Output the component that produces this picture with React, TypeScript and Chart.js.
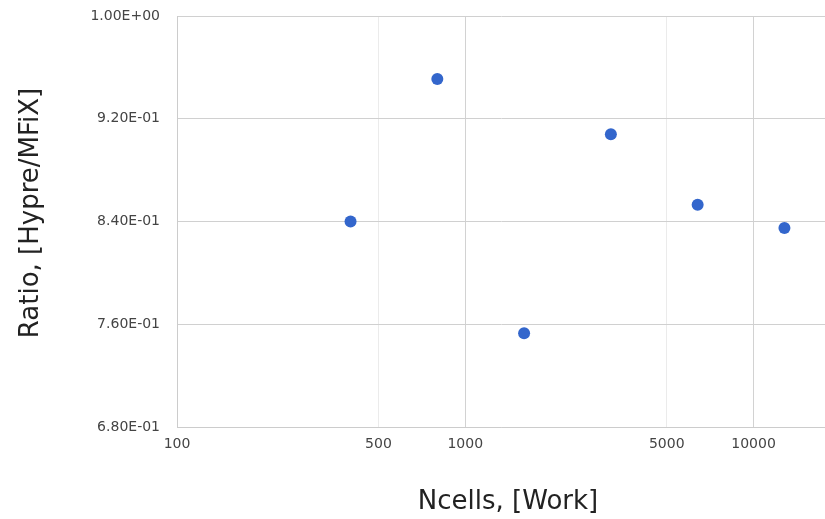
import React, { useEffect, useRef } from "react";
import { Chart, registerables } from "chart.js";

Chart.register(...registerables);

// Problem size (number of cells) and solver time ratio
const ncells = [400, 800, 1600, 3200, 6400, 12800];
const ratio = [0.84, 0.951, 0.753, 0.908, 0.853, 0.835];

// Axis ticks
const xTickValues = [100, 500, 1000, 5000, 10000];
const xMajorTicks = [100, 1000, 10000];
const yTickValues = [0.68, 0.76, 0.84, 0.92, 1.0];

const xTitle = "Ncells, [Work]";
const yTitle = "Ratio, [Hypre/MFiX]";

const FONT = "'DejaVu Sans', Verdana, sans-serif";

// 0.84 -> "8.40E-01"
function sci(v: number): string {
  const [m, e] = v.toExponential(2).split("e");
  const n = parseInt(e, 10);
  const sign = n < 0 ? "-" : "+";
  return `${m}E${sign}${String(Math.abs(n)).padStart(2, "0")}`;
}

// Draws the two axis titles in the outer margins
const axisTitles = {
  id: "axisTitles",
  afterDraw(chart: any) {
    const { ctx } = chart;
    ctx.save();
    ctx.fillStyle = "#222222";
    ctx.font = `26px ${FONT}`;
    ctx.textAlign = "center";
    ctx.textBaseline = "middle";
    ctx.fillText(xTitle, 508, 502);
    ctx.translate(31, 213);
    ctx.rotate(-Math.PI / 2);
    ctx.fillText(yTitle, 0, 0);
    ctx.restore();
  },
};

export default function App() {
  const canvasRef = useRef<HTMLCanvasElement | null>(null);

  useEffect(() => {
    const canvas = canvasRef.current;
    if (!canvas) return;
    const chart = new Chart(canvas, {
      type: "scatter",
      data: {
        datasets: [
          {
            label: "Ratio",
            data: ncells.map((x, i) => ({ x, y: ratio[i] })),
            backgroundColor: "#3366cc",
            borderColor: "#3366cc",
            borderWidth: 0,
            pointRadius: 6,
            pointHoverRadius: 6,
          },
        ],
      },
      options: {
        responsive: false,
        animation: false,
        layout: { padding: { top: 16, right: 0, bottom: 0, left: 0 } },
        plugins: {
          legend: { display: false },
          tooltip: { enabled: false },
        },
        scales: {
          x: {
            type: "logarithmic",
            min: 100,
            max: 17700,
            afterBuildTicks: (scale: any) => {
              scale.ticks = xTickValues.map((value) => ({ value }));
            },
            afterFit: (scale: any) => {
              scale.height = 92;
              scale.paddingLeft = 0;
              scale.paddingRight = 0;
            },
            ticks: {
              autoSkip: false,
              maxRotation: 0,
              padding: 9,
              color: "#444444",
              font: { family: FONT, size: 14 },
              callback: (value: any) => String(Number(value)),
            },
            grid: {
              drawTicks: false,
              color: (ctx: any) =>
                xMajorTicks.includes(ctx.tick?.value) ? "#d2d2d2" : "#ebebeb",
            },
            border: { color: "#cccccc" },
            title: { display: false },
          },
          y: {
            type: "linear",
            min: 0.68,
            max: 1.0,
            afterBuildTicks: (scale: any) => {
              scale.ticks = yTickValues.map((value) => ({ value }));
            },
            afterFit: (scale: any) => {
              scale.width = 177;
              scale.paddingTop = 0;
              scale.paddingBottom = 0;
            },
            ticks: {
              padding: 17,
              color: "#444444",
              font: { family: FONT, size: 14 },
              callback: (value: any) => sci(Number(value)),
            },
            grid: {
              drawTicks: false,
              color: "#d0d0d0",
            },
            border: { color: "#cccccc" },
            title: { display: false },
          },
        },
      },
      plugins: [axisTitles],
    });
    return () => chart.destroy();
  }, []);

  // The canvas is 6px wider than the window so the plot area (inset by the
  // point radius) runs to the right edge; the wrapper hides the overflow.
  return (
    <div
      style={{
        position: "absolute",
        left: 0,
        top: 0,
        width: 825,
        height: 519,
        overflow: "hidden",
      }}
    >
      <canvas ref={canvasRef} width={831} height={519} style={{ display: "block" }} />
    </div>
  );
}
